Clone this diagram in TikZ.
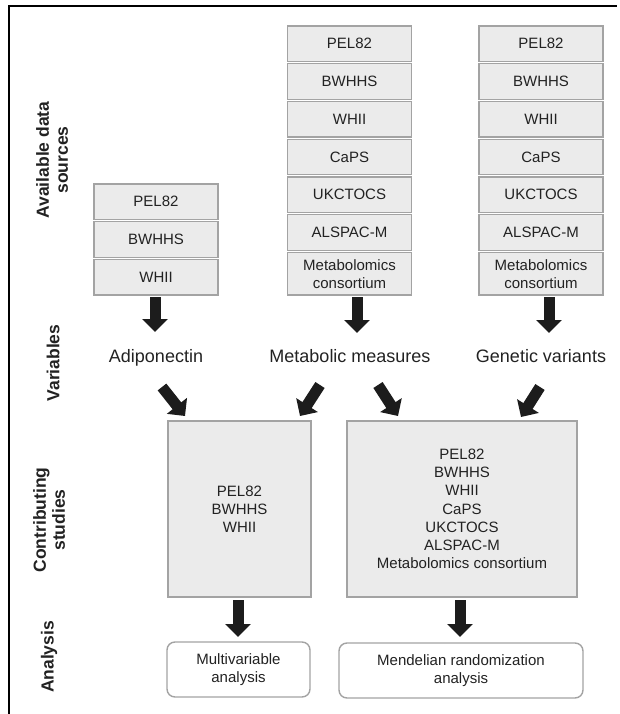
\documentclass[tikz,border=0pt]{standalone}
\usepackage{fontspec}
\setmainfont{Liberation Sans}
\usetikzlibrary{arrows.meta,positioning}
\definecolor{boxline}{HTML}{A3A3A3}
\definecolor{boxfill}{HTML}{EBEBEB}
\definecolor{arrowfill}{HTML}{1C1C1C}
\definecolor{textcol}{HTML}{222222}
\begin{document}
\begin{tikzpicture}[x=1pt,y=-1pt,
  src/.style={draw=boxline,fill=boxfill,line width=1.4pt,outer sep=0pt,inner sep=0pt,
    minimum width=124pt,minimum height=35.5pt,align=center,text=textcol,
    font=\fontsize{15}{18}\selectfont},
  study/.style={draw=boxline,fill=boxfill,line width=1.4pt,outer sep=0pt,inner sep=0pt,
    minimum height=176pt,align=center,text=textcol,font=\fontsize{15}{18.2}\selectfont},
  result/.style={draw=boxline,fill=white,line width=1.4pt,rounded corners=8pt,outer sep=0pt,
    inner sep=0pt,minimum height=55pt,align=center,text=textcol,font=\fontsize{15}{18}\selectfont},
  var/.style={anchor=base,inner sep=0pt,text=textcol,font=\fontsize{18}{21}\selectfont},
  side/.style={rotate=90,inner sep=0pt,align=center,text=textcol,
    font=\bfseries\fontsize{17.5}{19}\selectfont},
  fat/.style={line width=11pt,arrowfill,-{Triangle[width=25pt,length=13pt]}}]
\useasboundingbox (0,0) rectangle (619,714);
% 枠
\draw[line width=2.5pt] (9,714) -- (9,6) -- (617,6);
% 左の列
\foreach \name [count=\i] in {PEL82,BWHHS,WHII}
  \node[src] (a\i) at (156,{201.75+37.75*(\i-1)}) {\name};
% 中央の列
\foreach \name [count=\i] in {PEL82,BWHHS,WHII,CaPS,UKCTOCS,ALSPAC-M}
  \node[src] (m\i) at (349.5,{43.75+37.75*(\i-1)}) {\name};
\node[src,minimum height=42.5pt] (m7) at (349.5,273.75) {Metabolomics\\consortium};
% 右の列
\foreach \name [count=\i] in {PEL82,BWHHS,WHII,CaPS,UKCTOCS,ALSPAC-M}
  \node[src] (g\i) at (541,{43.75+37.75*(\i-1)}) {\name};
\node[src,minimum height=42.5pt] (g7) at (541,273.75) {Metabolomics\\consortium};
% 変数
\node[var] (adipo) at (156,362) {Adiponectin};
\node[var] (metab) at (350,362) {Metabolic measures};
\node[var] (genet) at (541,362) {Genetic variants};
\draw[fat] ([shift={(-1,2)}]a3.south) -- ([shift={(-1,-30)}]adipo.base);
\draw[fat] ([shift={(7.5,2)}]m7.south) -- ([shift={(7,-29)}]metab.base);
\draw[fat] ([shift={(8,2)}]g7.south) -- ([shift={(8,-29)}]genet.base);
% 研究
\node[study,minimum width=143pt] (sa) at (239.5,509) {PEL82\\BWHHS\\WHII};
\node[study,minimum width=230pt] (sb) at (462,509)
  {PEL82\\BWHHS\\WHII\\CaPS\\UKCTOCS\\ALSPAC-M\\Metabolomics consortium};
\draw[fat] ([shift={(6,25)}]adipo.base) -- ([shift={(17,-5)}]sa.north west);
\draw[fat] ([shift={(-30,23)}]metab.base) -- ([shift={(-11,-5)}]sa.north east);
\draw[fat] ([shift={(28,23)}]metab.base) -- ([shift={(51,-5)}]sb.north west);
\draw[fat] ([shift={(-1,25)}]genet.base) -- ([shift={(-56,-4)}]sb.north east);
% 解析
\node[result,minimum width=143pt] (ra) at (238.5,669.5) {Multivariable\\analysis};
\node[result,minimum width=244pt] (rb) at (461,670.5) {Mendelian randomization\\analysis};
\draw[fat] ([shift={(-1.5,3)}]sa.south) -- ([shift={(-0.5,-5)}]ra.north);
\draw[fat] ([shift={(-2,3)}]sb.south) -- ([shift={(-1,-6)}]rb.north);
% 左の見出し
\node[side] (lab1) at (52,160) {Available data\\sources};
\node[side] (lab2) at (53,363) {Variables};
\node[side] (lab3) at (49,520) {Contributing\\studies};
\node[side] (lab4) at (49,657) {Analysis};
\end{tikzpicture}
\end{document}
